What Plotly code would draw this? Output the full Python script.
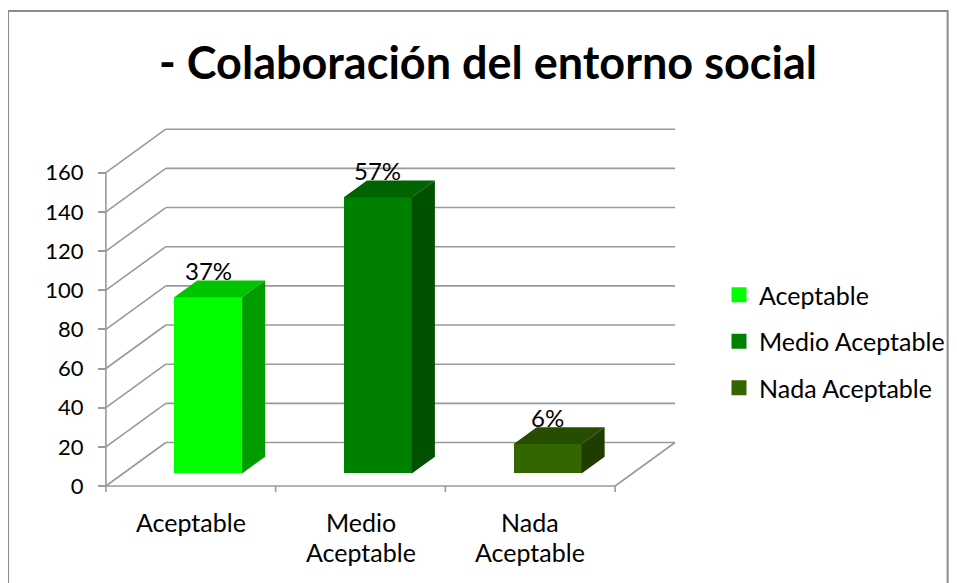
import plotly.graph_objects as go

# ---- data ----
categories = ["Aceptable", "Medio Aceptable", "Nada Aceptable"]
axis_labels = ["Aceptable", "Medio<br>Aceptable", "Nada<br>Aceptable"]
values = [90, 141, 15]
y_ticks = [0, 20, 40, 60, 80, 100, 120, 140, 160]
front_colors = ["#00FF00", "#008000", "#336600"]
top_colors = ["#00C400", "#006200", "#274D00"]
side_colors = ["#009C00", "#005000", "#1F3D00"]
title_text = "- Colaboración del entorno social"

total = sum(values)
pct_labels = [f"{round(v / total * 100)}%" for v in values]

# ---- geometry (page pixels; page body has an 8px margin) ----
OFF = 8
def P(px):
    return px - OFF

W, H = 957 - OFF, 583 - OFF
L, R_PX, T, B_PX = P(30), P(706), P(100), P(575)
PX_X, PX_Y = 170.0, 1.958
X0_PX, Y0_PX = P(106), P(486)
plot_w, plot_h = R_PX - L, B_PX - T
x_lo = -(X0_PX - L) / PX_X
x_hi = x_lo + plot_w / PX_X
y_lo = -(B_PX - Y0_PX) / PX_Y
y_hi = y_lo + plot_h / PX_Y

DX, DY = 60 / PX_X, 43.5 / PX_Y      # full depth of the floor
F = 0.29                              # depth of bar front face
D = 0.385                             # bar depth fraction
BW = 0.40                             # bar width
ncat = len(categories)
ymax = y_ticks[-1]

font = "Lato, 'Open Sans', sans-serif"
grid_col = "#9a9a9a"

fig = go.Figure()

shapes = []
def seg(x0, y0, x1, y1, col=grid_col, w=1.6):
    shapes.append(dict(type="line", xref="x", yref="y", x0=x0, y0=y0, x1=x1, y1=y1,
                       line=dict(color=col, width=w), layer="below"))

for v in y_ticks:
    seg(0, v, DX, v + DY)
    seg(DX, v + DY, ncat + DX, v + DY)
seg(ncat, 0, ncat + DX, DY)
seg(0, 0, ncat, 0)
seg(0, 0, 0, ymax)
tick_len = 6 / PX_Y
for i in range(ncat + 1):
    seg(i, 0, i, -tick_len)

def px2paper_x(px):
    return (P(px) - L) / plot_w
def px2paper_y(py):
    return (B_PX - P(py)) / plot_h
shapes.append(dict(type="rect", xref="paper", yref="paper",
                   x0=px2paper_x(8), x1=px2paper_x(949),
                   y0=px2paper_y(620), y1=px2paper_y(11),
                   line=dict(color="#8c8c8c", width=2), layer="below"))

# front faces as bars
base = F * DY
xc = [i + 0.5 + F * DX for i in range(ncat)]
fig.add_trace(go.Bar(x=xc, y=values, base=[base] * ncat, width=[BW] * ncat,
                     marker=dict(color=front_colors, line=dict(width=0)),
                     showlegend=False, hoverinfo="skip"))

# top and side faces
ox, oy = D * DX, D * DY
for i, v in enumerate(values):
    xl, xr = xc[i] - BW / 2, xc[i] + BW / 2
    yt = base + v
    fig.add_trace(go.Scatter(
        x=[xl, xr, xr + ox, xl + ox, xl], y=[yt, yt, yt + oy, yt + oy, yt],
        fill="toself", fillcolor=top_colors[i], mode="lines",
        line=dict(width=0, color=top_colors[i]), showlegend=False, hoverinfo="skip"))
    fig.add_trace(go.Scatter(
        x=[xr, xr, xr + ox, xr + ox, xr], y=[base, yt, yt + oy, base + oy, base],
        fill="toself", fillcolor=side_colors[i], mode="lines",
        line=dict(width=0, color=side_colors[i]), showlegend=False, hoverinfo="skip"))

# legend entries
for i, c in enumerate(categories):
    fig.add_trace(go.Scatter(x=[None], y=[None], mode="markers", name=c,
                             legendgroup=f"g{i}",
                             marker=dict(symbol="square", size=15, color=front_colors[i])))

annotations = []
for i, v in enumerate(values):
    annotations.append(dict(x=xc[i], y=base + v + oy + 10 / PX_Y, xref="x", yref="y",
                            text=pct_labels[i], showarrow=False, yanchor="middle",
                            font=dict(family=font, size=24, color="#000")))
for i, lab in enumerate(axis_labels):
    for j, line in enumerate(lab.split("<br>")):
        annotations.append(dict(x=i + 0.5, y=-(522 + 30 * j - 486) / PX_Y, xref="x", yref="y",
                                text=line, showarrow=False, yanchor="middle",
                                font=dict(family=font, size=25, color="#000")))

fig.update_layout(
    width=W, height=H,
    margin=dict(l=L, r=W - R_PX, t=T, b=H - B_PX, pad=0),
    paper_bgcolor="white", plot_bgcolor="white",
    title=dict(text=title_text, x=P(488) / W, y=1 - P(63) / H, xref="container", yref="container",
               xanchor="center", yanchor="middle",
               font=dict(family=font, size=45, color="#000", weight="bold")),
    xaxis=dict(range=[x_lo, x_hi], visible=False, fixedrange=True),
    yaxis=dict(range=[y_lo, y_hi], anchor="free", position=px2paper_x(106),
               tickvals=y_ticks, ticks="outside", ticklen=8, tickcolor=grid_col, tickwidth=1.6,
               showgrid=False, zeroline=False, showline=False, ticklabelstandoff=10,
               tickfont=dict(family=font, size=22, color="#000"), fixedrange=True),
    legend=dict(x=px2paper_x(719), y=px2paper_y(341.5), xanchor="left", yanchor="middle",
                font=dict(family=font, size=25, color="#000"), tracegroupgap=11,
                bgcolor="rgba(0,0,0,0)"),
    shapes=shapes, annotations=annotations, showlegend=True, bargap=0,
)

fig.write_html("out.html")
